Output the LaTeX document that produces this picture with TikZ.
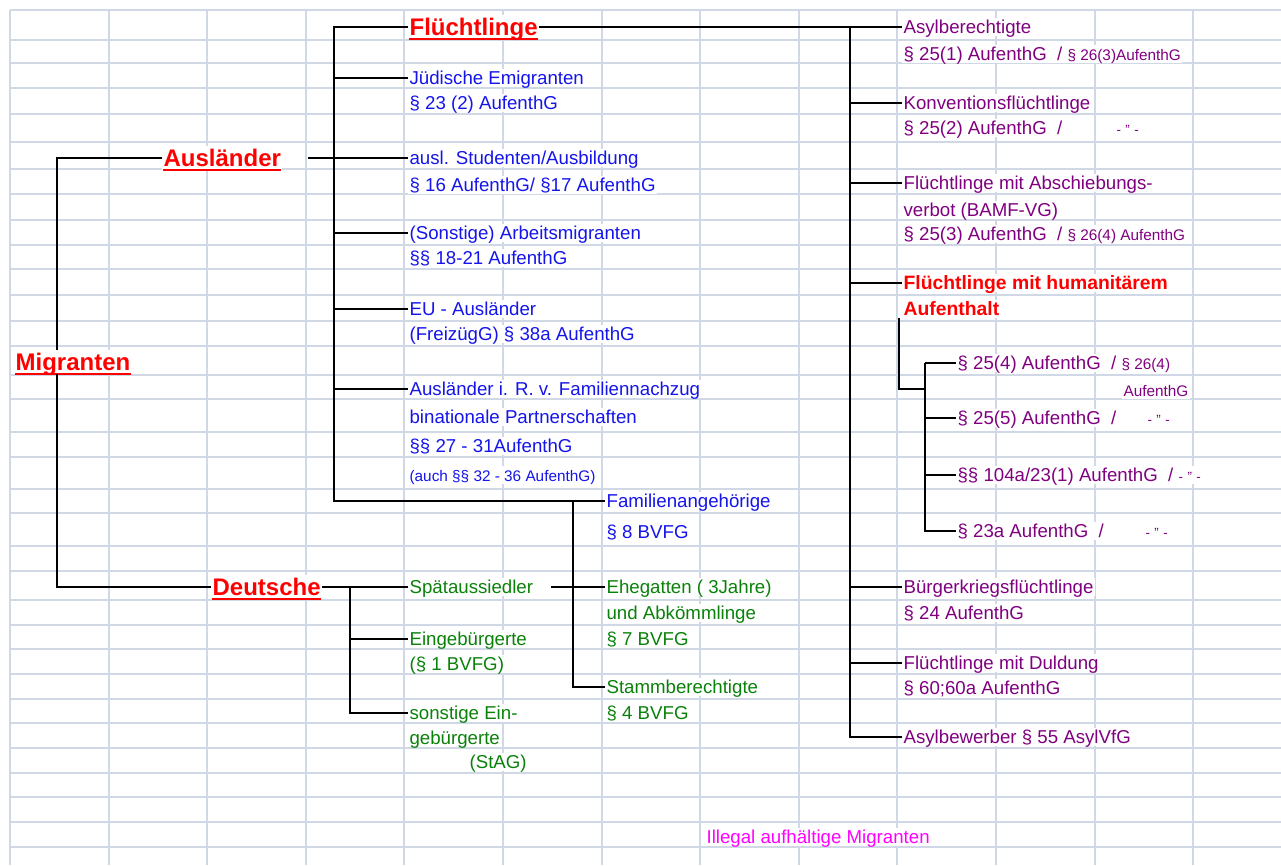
\documentclass[tikz,border=0pt]{standalone}
\usepackage{fontspec}
\setmainfont{Liberation Sans}
\usepackage{tikz}
\definecolor{gitterfarbe}{RGB}{208,215,229}
\definecolor{ablau}{RGB}{20,20,235}
\definecolor{alila}{RGB}{128,0,128}
\definecolor{agruen}{RGB}{10,130,10}
\definecolor{amagenta}{RGB}{255,0,255}
\newcommand{\klein}{\fontsize{11.5}{13}\selectfont}
\newcommand{\dito}{{\fontsize{10}{12}\selectfont -\,\,"\,\,-}}

\begin{document}
\begin{tikzpicture}[x=0.75pt, y=-0.75pt,
    gitter/.style={draw=gitterfarbe, line width=1.4pt},
    txt/.style={anchor=west, inner xsep=1pt, inner ysep=0pt, fill=white,
      text height=11pt, text depth=2pt, font=\fontsize{14}{16}\selectfont},
    blau/.style={txt, text=ablau},
    gruen/.style={txt, text=agruen},
    lila/.style={txt, text=alila},
    rottxt/.style={txt, text=red, font=\fontsize{14.5}{16}\selectfont\bfseries},
    titel/.style={txt, text=red, text height=15pt, text depth=3pt,
      font=\fontsize{18}{20}\selectfont\bfseries},
    unterstrich/.style={draw=red, line width=1.5pt},
    ast/.style={line width=1.4pt}]
  \useasboundingbox (0,0) rectangle (1281,865);
  % Tabellengitter
  \foreach \i in {0,...,12}
    \draw[gitter] ({10+98.6*\i},10) -- ({10+98.6*\i},865);
  \foreach \y in {10,40,63,88,114,142,169,194,220,245,269,295,321,346,375,399,432,
      457,489,513,546,571,600,625,649,674,699,723,748,773,797,822,847}
    \draw[gitter] (10,\y) -- (1281,\y);

  % Hauptgruppen
  \node[titel] (migr) at (14,362) {Migranten};
  \node[titel] (auslaender) at (162,158) {Ausländer};
  \node[titel] (deutsche) at (211,587) {Deutsche};
  \node[titel] (fluecht) at (408,27) {Flüchtlinge};
  \foreach \n in {migr,auslaender,deutsche,fluecht}
    \draw[unterstrich] ([shift={(1pt,-3pt)}]\n.base west) -- ([shift={(-1pt,-3pt)}]\n.base east);

  % Auslaender
  \node[blau] (juedisch) at (408,78) {Jüdische Emigranten};
  \node[blau] (juedisch2) at (408,103) {§ 23 (2) AufenthG};
  \node[blau] (studenten) at (408,158) {ausl. Studenten/Ausbildung};
  \node[blau] (studenten2) at (408,185) {§ 16 AufenthG/ §17 AufenthG};
  \node[blau] (arbeit) at (408,233) {(Sonstige) Arbeitsmigranten};
  \node[blau] (arbeit2) at (408,258) {§§ 18-21 AufenthG};
  \node[blau] (eu) at (408,309) {EU - Ausländer};
  \node[blau] (eu2) at (408,334) {(FreizügG) § 38a AufenthG};
  \node[blau] (nachzug) at (408,389) {Ausländer i. R. v. Familiennachzug};
  \node[blau] (nachzug2) at (408,417) {binationale Partnerschaften};
  \node[blau] (nachzug3) at (408,446) {§§ 27 - 31AufenthG};
  \node[blau] (nachzug4) at (408,475) {\klein (auch §§ 32 - 36 AufenthG)};
  \node[blau] (famang) at (605,501) {Familienangehörige};
  \node[blau] (famang2) at (605,532) {§ 8 BVFG};

  % Deutsche
  \node[gruen] (spaet) at (408,587) {Spätaussiedler};
  \node[gruen] (ehe) at (605,587) {Ehegatten ( 3Jahre)};
  \node[gruen] (ehe2) at (605,613) {und Abkömmlinge};
  \node[gruen] (ehe3) at (605,639) {§ 7 BVFG};
  \node[gruen] (eingeb) at (408,639) {Eingebürgerte};
  \node[gruen] (eingeb2) at (408,664) {(§ 1 BVFG)};
  \node[gruen] (stamm) at (605,687) {Stammberechtigte};
  \node[gruen] (stamm2) at (605,713) {§ 4 BVFG};
  \node[gruen] (sonst) at (408,713) {sonstige Ein-};
  \node[gruen] (sonst2) at (408,738) {gebürgerte};
  \node[gruen] (sonst3) at (468,762) {(StAG)};

  % Fluechtlinge
  \node[lila] (asylb) at (902,27) {Asylberechtigte};
  \node[lila] (asylb2) at (902,54) {§ 25(1) AufenthG~~/ {\klein § 26(3)AufenthG}};
  \node[lila] (konv) at (902,103) {Konventionsflüchtlinge};
  \node[lila] (konv2) at (902,128) {§ 25(2) AufenthG~~/};
  \node[lila] (konv3) at (1115,128) {\dito};
  \node[lila] (absch) at (902,183) {Flüchtlinge mit Abschiebungs-};
  \node[lila] (absch2) at (902,210) {verbot (BAMF-VG)};
  \node[lila] (absch3) at (902,234) {§ 25(3) AufenthG~~/ {\klein § 26(4) AufenthG}};
  \node[rottxt] (human) at (902,283) {Flüchtlinge mit humanitärem};
  \node[rottxt] (human2) at (902,309) {Aufenthalt};
  \node[lila] (p254) at (956,363) {§ 25(4) AufenthG~~/ {\klein § 26(4)}};
  \node[lila] (p254b) at (1122,390) {\klein AufenthG};
  \node[lila] (p255) at (956,418) {§ 25(5) AufenthG~~/};
  \node[lila] (p255b) at (1146,418) {\dito};
  \node[lila] (p104) at (956,475) {§§ 104a/23(1) AufenthG~~/ \dito};
  \node[lila] (p23a) at (956,531) {§ 23a AufenthG~~/};
  \node[lila] (p23ab) at (1144,531) {\dito};
  \node[lila] (buerger) at (902,587) {Bürgerkriegsflüchtlinge};
  \node[lila] (buerger2) at (902,613) {§ 24 AufenthG};
  \node[lila] (duldung) at (902,663) {Flüchtlinge mit Duldung};
  \node[lila] (duldung2) at (902,688) {§ 60;60a AufenthG};
  \node[lila] (asylbew) at (902,737) {Asylbewerber § 55 AsylVfG};

  \node[txt, text=amagenta] (illegal) at (705,837) {Illegal aufhältige Migranten};

  % Verbindungslinien
  \coordinate (mx) at (57,0);
  \coordinate (ta) at (334,0);
  \coordinate (td) at (350,0);
  \coordinate (te) at (551,0);
  \coordinate (tf) at (573,0);
  \coordinate (tr) at (850,0);
  \coordinate (hk) at (899,389);
  \coordinate (th) at (925,0);

  \draw[ast] (auslaender.west) -- (auslaender.west -| mx) -- (migr.north -| mx);
  \draw[ast] (migr.south -| mx) -- (deutsche.west -| mx) -- (deutsche.west);

  \draw[ast] (auslaender.east) ++(25,0) -- (studenten.west);
  \draw[ast] (fluecht.west) -- (fluecht.west -| ta) -- (famang.west -| ta) -- (famang.west);
  \foreach \n in {juedisch,arbeit,eu,nachzug}
    \draw[ast] (\n.west -| ta) -- (\n.west);

  \draw[ast] (famang.west -| tf) -- (stamm.west -| tf) -- (stamm.west);
  \draw[ast] (ehe.west -| te) -- (ehe.west);

  \draw[ast] (deutsche.east) -- (spaet.west);
  \draw[ast] (spaet.west -| td) -- (sonst.west -| td) -- (sonst.west);
  \draw[ast] (eingeb.west -| td) -- (eingeb.west);

  \draw[ast] (fluecht.east) -- (asylb.west);
  \draw[ast] (asylb.west -| tr) -- (asylbew.west -| tr) -- (asylbew.west);
  \foreach \n in {konv,absch,human,buerger,duldung}
    \draw[ast] (\n.west -| tr) -- (\n.west);

  \draw[ast] (human2.south -| hk) -- (hk) -- (hk -| th);
  \draw[ast] (p254.west -| th) -- (p23a.west -| th) -- (p23a.west);
  \foreach \n in {p254,p255,p104}
    \draw[ast] (\n.west -| th) -- (\n.west);
\end{tikzpicture}
\end{document}
